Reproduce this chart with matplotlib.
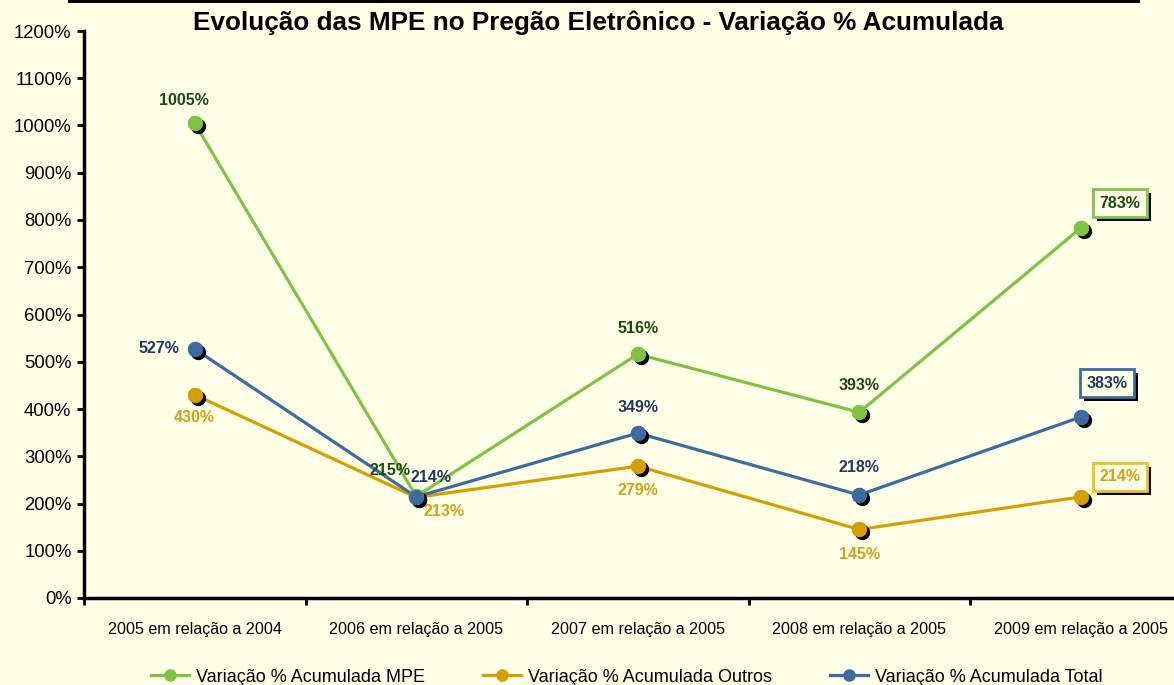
import numpy as np
import matplotlib
matplotlib.use("Agg")
import matplotlib.pyplot as plt
import matplotlib.transforms as mtransforms
import matplotlib.patheffects as pe
from matplotlib.patches import Rectangle

plt.rcParams['font.family'] = ['Liberation Sans', 'DejaVu Sans']

categories = ['2005 em relação a 2004', '2006 em relação a 2005', '2007 em relação a 2005',
              '2008 em relação a 2005', '2009 em relação a 2005']
mpe = [1005, 215, 516, 393, 783]
outros = [430, 213, 279, 145, 214]
total = [527, 214, 349, 218, 383]
yticks = list(range(0, 1300, 100))

bg = '#FFFFE8'
green, green_txt = '#80C342', '#1A4A12'
gold, gold_txt = '#D4A000', '#D4A017'
blue, blue_txt = '#3C6BA0', '#1F3864'

fig = plt.figure(figsize=(11.74, 6.85), dpi=100, facecolor=bg)
ax = fig.add_axes([84 / 1174, 1 - 598 / 685, (1191.5 - 84) / 1174, (598 - 31) / 685])
ax.set_facecolor(bg)

x = np.arange(len(categories))
shadow = mtransforms.offset_copy(ax.transData, fig=fig, x=3, y=-3, units='dots')

series = [
    (mpe, green, green_txt, green, 'Variação % Acumulada MPE',
     [(-11, 23), (-26, 26), (0, 26), (0, 27), (39, 25)]),
    (outros, gold, gold_txt, '#EEC21A', 'Variação % Acumulada Outros',
     [(0, -23), (28, -14), (0, -24), (0, -25), (39, 20)]),
    (total, blue, blue_txt, blue, 'Variação % Acumulada Total',
     [(-36, 0), (15, 19), (0, 26), (0, 27), (26, 34)]),
]

handles = []
for vals, col, tcol, bcol, name, offs in series:
    ln, = ax.plot(x, vals, color=col, lw=2.3, marker='o', ms=10, mec=col, zorder=3, label=name)
    handles.append(ln)
for vals, col, tcol, bcol, name, offs in series:
    ax.plot(x, vals, ls='none', marker='o', ms=10, color='black', transform=shadow, zorder=3.5)
    ax.plot(x, vals, ls='none', marker='o', ms=10, color=col, zorder=4)
    for i, (v, (dx, dy)) in enumerate(zip(vals, offs)):
        label = f'{v}%'
        if i == len(vals) - 1:
            ann = ax.annotate(label, (x[i], v), xytext=(dx, dy), textcoords='offset pixels',
                              ha='center', va='center', fontsize=11.5, fontweight='bold', color=tcol,
                              bbox=dict(boxstyle='square,pad=0.42', fc=bg, ec=bcol, lw=2), zorder=6)
            ann.get_bbox_patch().set_path_effects(
                [pe.SimplePatchShadow(offset=(3, -3), shadow_rgbFace='black', alpha=1), pe.Normal()])
        else:
            ax.annotate(label, (x[i], v), xytext=(dx, dy), textcoords='offset pixels',
                        ha='center', va='center', fontsize=11.5, fontweight='bold', color=tcol, zorder=6)

ax.set_xlim(-0.5, 4.5)
ax.set_ylim(0, 1200)
ax.set_yticks(yticks)
ax.set_yticklabels([f'{t}%' for t in yticks], fontsize=13.3)
ax.set_xticks(x)
ax.set_xticklabels(categories, fontsize=11.6)
ax.set_xticks(np.arange(-0.5, 5, 1), minor=True)
ax.tick_params(axis='x', which='major', length=0, pad=17)
ax.tick_params(axis='x', which='minor', length=5, width=2, direction='out')
ax.tick_params(axis='y', length=5, width=2, direction='out', pad=4)
for s in ['top', 'right']:
    ax.spines[s].set_visible(False)
for s in ['left', 'bottom']:
    ax.spines[s].set_linewidth(2.5)

fig.text(598 / 1174, 1 - 23 / 685, 'Evolução das MPE no Pregão Eletrônico - Variação % Acumulada',
         ha='center', va='center', fontsize=18.8, fontweight='bold')
fig.patches.append(Rectangle((68 / 1174, 1 - 3 / 685), (1140 - 68) / 1174, 3 / 685,
                             transform=fig.transFigure, fc='black', ec='none'))

fig.legend(handles=handles, loc='center', bbox_to_anchor=(627 / 1174, 1 - 677 / 685), ncol=3,
           frameon=False, fontsize=13, handlelength=2.1, columnspacing=3.2, handletextpad=0.4,
           borderaxespad=0, markerscale=0.8)

fig.savefig('out.png', dpi=100, facecolor=bg)
